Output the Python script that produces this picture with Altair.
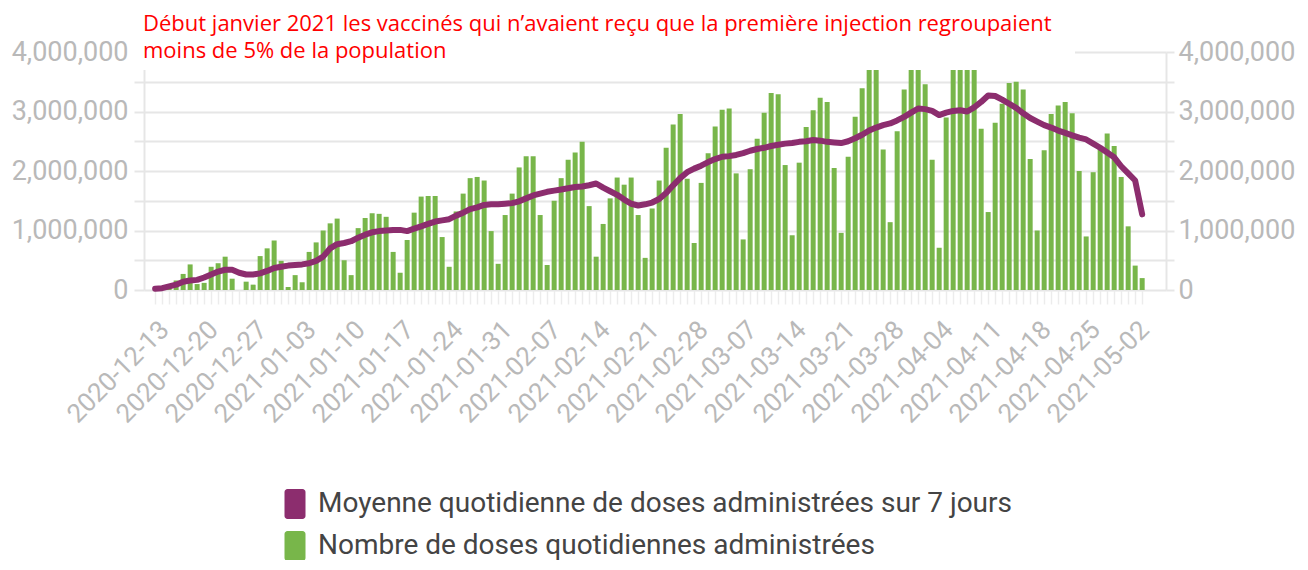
import altair as alt
import pandas as pd

# ---- data (values in millions of doses) ----
start_date = "2020-12-13"
n_days = 142
doses_m = [
    0.00, 0.01, 0.04, 0.16, 0.27, 0.43, 0.10, 0.12, 0.39, 0.45,
    0.56, 0.19, 0.00, 0.14, 0.09, 0.57, 0.70, 0.83, 0.49, 0.05,
    0.25, 0.13, 0.64, 0.80, 1.00, 1.12, 1.20, 0.50, 0.25, 1.04,
    1.21, 1.29, 1.28, 1.23, 0.64, 0.29, 0.84, 1.30, 1.57, 1.58,
    1.58, 0.89, 0.39, 1.32, 1.62, 1.88, 1.90, 1.84, 0.99, 0.44,
    1.26, 1.62, 2.06, 2.25, 2.25, 1.26, 0.42, 1.50, 1.88, 2.19,
    2.31, 2.49, 1.41, 0.56, 1.11, 1.54, 1.89, 1.77, 1.89, 1.26,
    0.54, 1.37, 1.84, 2.39, 2.78, 2.96, 1.87, 0.79, 1.80, 2.30,
    2.75, 3.03, 3.05, 1.96, 0.85, 2.03, 2.54, 2.98, 3.31, 3.29,
    2.10, 0.92, 2.14, 2.74, 3.02, 3.23, 3.16, 2.05, 0.96, 2.24,
    2.91, 3.39, 3.75, 3.80, 2.36, 1.14, 2.67, 3.37, 3.85, 3.90,
    3.46, 2.19, 0.71, 2.90, 3.90, 4.00, 3.95, 3.80, 2.71, 1.31,
    2.81, 3.13, 3.48, 3.50, 3.37, 2.20, 1.00, 2.35, 2.96, 3.10,
    3.16, 2.97, 2.00, 0.90, 1.98, 2.39, 2.63, 2.42, 1.90, 1.07,
    0.41, 0.20,
]
avg7_m = [
    0.02, 0.03, 0.06, 0.09, 0.14, 0.16, 0.17, 0.21, 0.26, 0.31,
    0.34, 0.34, 0.29, 0.26, 0.26, 0.28, 0.32, 0.37, 0.39, 0.41,
    0.42, 0.43, 0.45, 0.49, 0.56, 0.70, 0.77, 0.79, 0.82, 0.88,
    0.93, 0.97, 0.99, 1.00, 1.01, 1.01, 0.99, 1.03, 1.07, 1.11,
    1.15, 1.17, 1.19, 1.25, 1.30, 1.36, 1.39, 1.43, 1.44, 1.44,
    1.45, 1.46, 1.49, 1.54, 1.59, 1.62, 1.65, 1.67, 1.69, 1.71,
    1.73, 1.74, 1.76, 1.79, 1.72, 1.66, 1.60, 1.52, 1.45, 1.42,
    1.44, 1.47, 1.53, 1.63, 1.76, 1.88, 1.98, 2.04, 2.09, 2.15,
    2.20, 2.24, 2.25, 2.27, 2.30, 2.34, 2.37, 2.39, 2.42, 2.44,
    2.46, 2.47, 2.49, 2.50, 2.52, 2.51, 2.49, 2.48, 2.47, 2.50,
    2.55, 2.61, 2.68, 2.73, 2.77, 2.80, 2.85, 2.91, 2.98, 3.05,
    3.04, 3.01, 2.94, 2.98, 3.01, 3.02, 3.00, 3.07, 3.16, 3.27,
    3.26, 3.20, 3.13, 3.06, 2.97, 2.89, 2.83, 2.77, 2.73, 2.68,
    2.64, 2.60, 2.56, 2.53, 2.46, 2.39, 2.31, 2.23, 2.08, 1.96,
    1.84, 1.27,
]
y_ticks = [0, 500000, 1000000, 1500000, 2000000, 2500000, 3000000, 3500000, 4000000]
series_names = [
    "Moyenne quotidienne de doses administrées sur 7 jours",
    "Nombre de doses quotidiennes administrées",
]
series_colors = ["#8c2d6e", "#78b64a"]
title_lines = [
    "Début janvier 2021 les vaccinés qui n’avaient reçu que la première injection regroupaient",
    "moins de 5% de la population",
]

dates = pd.date_range(start_date, periods=n_days, freq="D")
df = pd.DataFrame({
    "date": dates.strftime("%Y-%m-%d"),
    "doses": [round(v * 1e6) for v in doses_m],
    "avg": [round(v * 1e6) for v in avg7_m],
})

day_ms = 86400000
t0 = int(dates[0].value // 10**6)
t_last = int(dates[-1].value // 10**6)
x_domain = [t0 - int(0.877 * day_ms), t_last + int(2.69 * day_ms)]
x_values = [int(d.value // 10**6) for d in dates]

GRID = "#e6e6e6"
LABEL = "#b9b9b9"
FONT = "Roboto"

x_enc = alt.X(
    "date:T",
    scale=alt.Scale(type="utc", domain=x_domain),
    axis=alt.Axis(
        title="", values=x_values, grid=False, domain=False,
        labelExpr="utcday(datum.value) == 0 ? utcFormat(datum.value, '%Y-%m-%d') : ''",
        labelAngle=-45, labelAlign="right", labelBaseline="top", labelOverlap=False,
        labelFontSize=26, labelColor=LABEL, labelFont=FONT, labelPadding=12,
        tickColor="#ececec", tickSize=14, tickWidth=1.5,
    ),
)

label_expr_y = "datum.value % 1000000 === 0 ? format(datum.value, ',') : ''"

color_scale = alt.Scale(domain=series_names, range=series_colors)
symbol_path = ("M-0.5,-1H0.5A0.2,0.2 0 0 1 0.7,-0.8V0.8A0.2,0.2 0 0 1 0.5,1"
               "H-0.5A0.2,0.2 0 0 1 -0.7,0.8V-0.8A0.2,0.2 0 0 1 -0.5,-1Z")

bars = alt.Chart(df).mark_bar(width=5).encode(
    x=x_enc,
    y=alt.Y(
        "doses:Q",
        scale=alt.Scale(domain=[0, 4000000]),
        axis=alt.Axis(
            title="", orient="left", values=y_ticks, labelExpr=label_expr_y,
            grid=True, gridColor=GRID, gridWidth=2, domainColor=GRID, domainWidth=2,
            tickColor=GRID, tickSize=10, tickWidth=2, labelPadding=6,
            labelFontSize=27, labelColor=LABEL, labelFont=FONT,
        ),
    ),
    color=alt.Color(
        "series:N", scale=color_scale,
        legend=alt.Legend(
            title="", orient="none", legendX=136, legendY=437, direction="vertical",
            symbolType=symbol_path, symbolSize=900, symbolStrokeWidth=0, symbolOpacity=1,
            labelFontSize=28, labelColor="#444444", labelFont=FONT, labelOffset=8,
            rowPadding=12, labelLimit=900,
        ),
    ),
).transform_calculate(series="'" + series_names[1] + "'")

line = alt.Chart(df).mark_line(strokeWidth=6, strokeCap="round", strokeJoin="round").encode(
    x=x_enc,
    y=alt.Y(
        "avg:Q",
        scale=alt.Scale(domain=[0, 4000000]),
        axis=alt.Axis(
            title="", orient="right", values=y_ticks, labelExpr=label_expr_y,
            grid=False, domainColor=GRID, domainWidth=2,
            tickColor=GRID, tickSize=8, tickWidth=2, labelPadding=4,
            labelFontSize=27, labelColor=LABEL, labelFont=FONT,
        ),
    ),
    color=alt.Color("series:N", scale=color_scale, legend=None),
).transform_calculate(series="'" + series_names[0] + "'")

cover = alt.Chart(pd.DataFrame({"k": [0]})).mark_rect(color="white").encode(
    x=alt.value(-14), x2=alt.value(931), y=alt.value(-52), y2=alt.value(18)
)

t1 = alt.Chart(pd.DataFrame({"text": [title_lines[0]]})).mark_text(
    align="left", baseline="middle", color="#ff0000", font="Open Sans", fontSize=22
).encode(x=alt.value(-1), y=alt.value(-28), text="text:N")
t2 = alt.Chart(pd.DataFrame({"text": [title_lines[1]]})).mark_text(
    align="left", baseline="middle", color="#ff0000", font="Open Sans", fontSize=22
).encode(x=alt.value(-1), y=alt.value(-1), text="text:N")

chart = alt.layer(bars, line, cover, t1, t2).resolve_scale(y="independent").properties(
    width=1022, height=238,
    autosize=alt.AutoSizeParams(type="none"),
    padding={"left": 136, "top": 44, "right": 132, "bottom": 270},
).configure_view(stroke=None)

chart.save("out.html", embed_options={"renderer": "svg", "actions": False})
